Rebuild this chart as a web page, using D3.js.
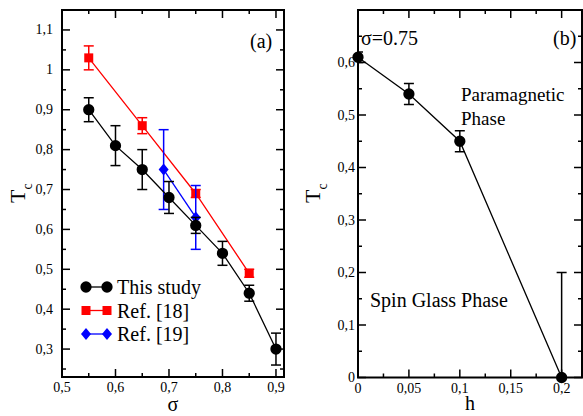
<!DOCTYPE html>
<html lang="en">
<head>
<meta charset="UTF-8">
<title>Tc</title>
<script src="https://cdn.jsdelivr.net/npm/d3@7"></script>
<style>
body{margin:0;background:#fff;}
</style>
</head>
<body>
<script>
// panel (a): Tc vs sigma
var sigThis = [0.55,0.6,0.65,0.7,0.75,0.8,0.85,0.9];
var tcThis  = [0.90,0.81,0.75,0.68,0.61,0.54,0.44,0.30];
var errThis = [0.03,0.05,0.05,0.04,0.02,0.03,0.02,0.04];
var sigRef18 = [0.55,0.65,0.75,0.85];
var tcRef18  = [1.03,0.86,0.69,0.49];
var errRef18 = [0.03,0.02,0.01,0.01];
var sigRef19 = [0.69,0.75];
var tcRef19  = [0.75,0.63];
var errRef19 = [0.10,0.08];
var xTicksA = [0.5,0.6,0.7,0.8,0.9];
var yTicksA = [0.3,0.4,0.5,0.6,0.7,0.8,0.9,1.0,1.1];
// panel (b): Tc vs h at sigma=0.75
var hVals = [0,0.05,0.1,0.2];
var tcH   = [0.61,0.54,0.45,0.0];
var errH  = [0.01,0.02,0.02,0.2];
var xTicksB = [0,0.05,0.1,0.15,0.2];
var yTicksB = [0,0.1,0.2,0.3,0.4,0.5,0.6];

var FONT = "'Liberation Serif', 'DejaVu Serif', serif";
var fmt = function(d){ return String(+d.toFixed(2)).replace(".", ","); };

var svg = d3.select("body").append("svg").attr("width",583).attr("height",416)
	.attr("font-family",FONT).style("font-family",FONT);

function zip(xs,ys,es){ return xs.map(function(x,i){ return {x:x,y:ys[i],e:es[i]}; }); }

function frame(g,x,y,xt,yt,xMinor,yMinor,labGap){
	var x0=x.range()[0], x1=x.range()[1], y0=y.range()[0], y1=y.range()[1];
	// ticks on all four sides, pointing inward
	xMinor.forEach(function(v){
		g.append("line").attr("x1",x(v)).attr("x2",x(v)).attr("y1",y0).attr("y2",y0-4).attr("stroke","#000").attr("stroke-width",1.5);
		g.append("line").attr("x1",x(v)).attr("x2",x(v)).attr("y1",y1).attr("y2",y1+4).attr("stroke","#000").attr("stroke-width",1.5);
	});
	yMinor.forEach(function(v){
		g.append("line").attr("y1",y(v)).attr("y2",y(v)).attr("x1",x0).attr("x2",x0+4).attr("stroke","#000").attr("stroke-width",1.5);
		g.append("line").attr("y1",y(v)).attr("y2",y(v)).attr("x1",x1).attr("x2",x1-4).attr("stroke","#000").attr("stroke-width",1.5);
	});
	xt.forEach(function(v){
		g.append("line").attr("x1",x(v)).attr("x2",x(v)).attr("y1",y0).attr("y2",y0-8).attr("stroke","#000").attr("stroke-width",1.5);
		g.append("line").attr("x1",x(v)).attr("x2",x(v)).attr("y1",y1).attr("y2",y1+8).attr("stroke","#000").attr("stroke-width",1.5);
		g.append("text").attr("x",x(v)).attr("y",y0+15).attr("text-anchor","middle").attr("font-size",14).text(fmt(v));
	});
	yt.forEach(function(v){
		g.append("line").attr("y1",y(v)).attr("y2",y(v)).attr("x1",x0).attr("x2",x0+8).attr("stroke","#000").attr("stroke-width",1.5);
		g.append("line").attr("y1",y(v)).attr("y2",y(v)).attr("x1",x1).attr("x2",x1-8).attr("stroke","#000").attr("stroke-width",1.5);
		g.append("text").attr("x",x0-labGap).attr("y",y(v)+4.5).attr("text-anchor","end").attr("font-size",14).text(fmt(v));
	});
	g.append("rect").attr("x",x0).attr("y",y1).attr("width",x1-x0).attr("height",y0-y1)
		.attr("fill","none").attr("stroke","#000").attr("stroke-width",2);
}

function series(g,x,y,data,color,shape,clip){
	var line = d3.line().x(function(d){return x(d.x);}).y(function(d){return y(d.y);});
	var eb = g.append("g").attr("clip-path",clip);
	data.forEach(function(d){
		var xx=x(d.x), ya=y(d.y+d.e), yb=y(d.y-d.e);
		eb.append("line").attr("x1",xx).attr("x2",xx).attr("y1",ya).attr("y2",yb).attr("stroke",color).attr("stroke-width",1.5);
		eb.append("line").attr("x1",xx-5).attr("x2",xx+5).attr("y1",ya).attr("y2",ya).attr("stroke",color).attr("stroke-width",1.5);
		eb.append("line").attr("x1",xx-5).attr("x2",xx+5).attr("y1",yb).attr("y2",yb).attr("stroke",color).attr("stroke-width",1.5);
	});
	g.append("path").datum(data).attr("d",line).attr("fill","none").attr("stroke",color).attr("stroke-width",1.3);
	g.selectAll(null).data(data).enter().append("path")
		.attr("transform",function(d){return "translate("+x(d.x)+","+y(d.y)+")";})
		.attr("d",shape).attr("fill",color);
}

var circ = d3.symbol().type(d3.symbolCircle).size(100)();
var sq = "M-4.5,-4.5H4.5V4.5H-4.5Z";
var dia = "M0,-6L5,0L0,6L-5,0Z";

// ---------- panel (a)
var xA = d3.scaleLinear().domain([0.5,0.915]).range([62,284]);
var yA = d3.scaleLinear().domain([0.23,1.15]).range([377,10]);
var gA = svg.append("g");
svg.append("clipPath").attr("id","clipA").append("rect").attr("x",62).attr("y",10).attr("width",222).attr("height",367);
frame(gA,xA,yA,xTicksA,yTicksA,[0.55,0.65,0.75,0.85],[0.25,0.35,0.45,0.55,0.65,0.75,0.85,0.95,1.05],9);
series(gA,xA,yA,zip(sigRef18,tcRef18,errRef18),"#ff0000",sq,"url(#clipA)");
series(gA,xA,yA,zip(sigRef19,tcRef19,errRef19),"#0000ff",dia,"url(#clipA)");
series(gA,xA,yA,zip(sigThis,tcThis,errThis),"#000000",circ,"url(#clipA)");

gA.append("text").attr("x",250).attr("y",48).attr("font-size",20).text("(a)");
gA.append("text").attr("x",173).attr("y",411).attr("text-anchor","middle").attr("font-size",20).text("σ");
gA.append("text").attr("transform","translate(25,203) rotate(-90)").attr("font-size",22)
	.text("T").append("tspan").attr("dy",7).attr("font-size",14).text("c");

var legend = [["This study","#000000",circ],["Ref. [18]","#ff0000",sq],["Ref. [19]","#0000ff",dia]];
legend.forEach(function(l,i){
	var yy = 287 + i*23.5;
	gA.append("line").attr("x1",86).attr("x2",107).attr("y1",yy).attr("y2",yy).attr("stroke",l[1]).attr("stroke-width",1.3);
	[86,107].forEach(function(xx){
		gA.append("path").attr("transform","translate("+xx+","+yy+")").attr("d",l[2]).attr("fill",l[1]);
	});
	gA.append("text").attr("x",117).attr("y",yy+7).attr("font-size",20).text(l[0]);
});

// ---------- panel (b)
var xB = d3.scaleLinear().domain([0,0.22]).range([358,582]);
var yB = d3.scaleLinear().domain([0,0.7]).range([377.5,10]);
var gB = svg.append("g");
svg.append("clipPath").attr("id","clipB").append("rect").attr("x",358).attr("y",10).attr("width",224).attr("height",367.5);
frame(gB,xB,yB,xTicksB,yTicksB,[0.025,0.075,0.125,0.175],[0.05,0.15,0.25,0.35,0.45,0.55,0.65],3);
series(gB,xB,yB,zip(hVals,tcH,errH),"#000000",circ,"url(#clipB)");

gB.append("text").attr("x",361).attr("y",45).attr("font-size",20).text("σ=0.75");
gB.append("text").attr("x",553).attr("y",45).attr("font-size",20).text("(b)");
gB.append("text").attr("x",461).attr("y",101).attr("font-size",19).text("Paramagnetic");
gB.append("text").attr("x",461).attr("y",125).attr("font-size",19).text("Phase");
gB.append("text").attr("x",370).attr("y",307).attr("font-size",20).text("Spin Glass Phase");
gB.append("text").attr("x",470).attr("y",410).attr("text-anchor","middle").attr("font-size",20).text("h");
gB.append("text").attr("transform","translate(320,203) rotate(-90)").attr("font-size",22)
	.text("T").append("tspan").attr("dy",7).attr("font-size",14).text("c");
</script>
</body>
</html>
